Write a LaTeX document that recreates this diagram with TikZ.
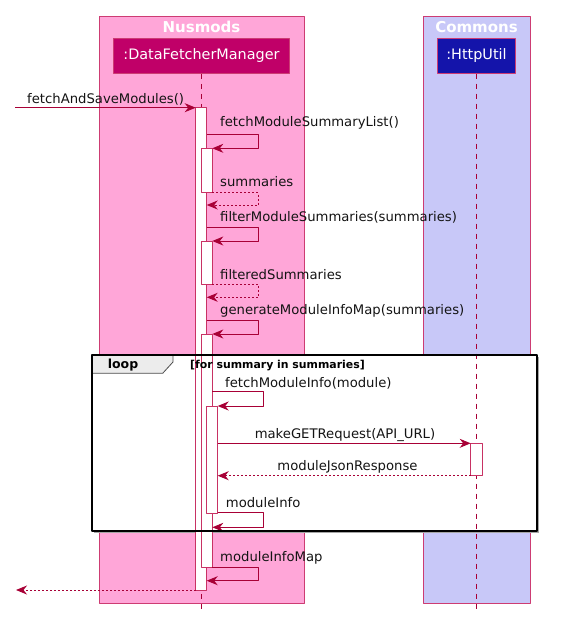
\documentclass[tikz,border=0pt]{standalone}
\usepackage{fontspec}
\setmainfont{DejaVu Sans}
\usepackage{xcolor}
\usetikzlibrary{arrows.meta,calc}
\definecolor{umlred}{RGB}{168,0,54}
\definecolor{grpline}{RGB}{205,60,115}
\definecolor{nuspink}{RGB}{255,166,216}
\definecolor{comblue}{RGB}{200,200,248}
\definecolor{dfmfill}{RGB}{192,0,104}
\definecolor{httpfill}{RGB}{20,20,170}
\definecolor{barline}{RGB}{200,50,100}
\definecolor{tabgray}{RGB}{236,236,236}

\begin{document}
\begin{tikzpicture}[x=1pt,y=-1pt,line join=round,
  msg/.style={draw=umlred,line width=1pt,-{Stealth[length=11pt,width=9pt,inset=3.5pt]}},
  ret/.style={msg,dash pattern=on 2pt off 2pt},
  life/.style={draw=umlred,line width=1pt,dash pattern=on 5pt off 5pt},
  bar/.style={draw=barline,fill=white,line width=1pt},
  grp/.style={draw=grpline,line width=1pt},
  grptitle/.style={text=white,font=\fontsize{15}{17}\selectfont\bfseries,inner sep=0pt},
  part/.style={draw=grpline,line width=1pt,text=white,inner sep=0pt,
    font=\fontsize{14.4}{16}\selectfont},
  lbl/.style={anchor=base west,inner sep=0pt,text=black!92,
    font=\fontsize{13.2}{15}\selectfont},
  clbl/.style={lbl,anchor=base}]
  \useasboundingbox (0,0) rectangle (586,622);

  % groups and participants
  \draw[grp,fill=nuspink] (99,16) rectangle (304,603);
  \draw[grp,fill=comblue] (423,16) rectangle (530,603);
  \node[grptitle] (nus) at (201.5,27) {Nusmods};
  \node[grptitle] (com) at (476.5,27) {Commons};
  \node[part,fill=dfmfill,minimum width=175.6,minimum height=35] (dfm) at (201.5,55.8) {:DataFetcherManager};
  \node[part,fill=httpfill,minimum width=77.6,minimum height=35] (http) at (476.5,55.7) {:HttpUtil};

  % loop frame background
  \fill[black!35] (94.3,357) rectangle (538.7,532.7);
  \fill[white] (92.3,355) rectangle (536.7,530.7);

  % lifelines
  \coordinate (dfmend) at (201.5,612);
  \coordinate (httpend) at (476.5,612);
  \draw[life] (dfm.south) -- (dfmend);
  \draw[life] (http.south) -- (httpend);

  % loop tab
  \draw[fill=tabgray,draw=black!70,line width=0.8pt] (92.3,355) -- (173,355) -- (173,362)
    -- (162.7,373.3) -- (92.3,373.3) -- cycle;
  \node[anchor=base,inner sep=0pt,font=\fontsize{12.5}{14}\selectfont\bfseries] (lp) at (123,368) {loop};

  % activation bars
  \draw[bar] (195.7,107.7) rectangle (206.7,590);
  \draw[bar] (201.3,148.3) rectangle (212.3,192.7);
  \draw[bar] (201.3,241) rectangle (212.3,284);
  \draw[bar] (201.3,334) rectangle (212.3,567.3);
  \draw[bar] (206.7,406) rectangle (217.7,513.3);
  \draw[bar] (470.7,443.3) rectangle (482.7,475.7);

  % guard
  \node[anchor=base west,inner sep=0pt,font=\fontsize{10.9}{13}\selectfont\bfseries] (grd) at (190,368) {[for summary in summaries]};

  % message end points
  \coordinate (in) at (15,107.7);
  \coordinate (b1in) at (195.7,107.7);
  \coordinate (m1) at (206.7,134.3);
  \coordinate (m1e) at (212.3,148.3);
  \coordinate (r1) at (212.3,192.7);
  \coordinate (r1e) at (206.7,205);
  \coordinate (m2) at (206.7,227.3);
  \coordinate (m2e) at (212.3,241);
  \coordinate (r2) at (212.3,284);
  \coordinate (r2e) at (206.7,297.3);
  \coordinate (m3) at (206.7,320);
  \coordinate (m3e) at (212.3,334);
  \coordinate (m4) at (212.3,391.7);
  \coordinate (m4e) at (217.7,406);
  \coordinate (m5) at (217.7,443.3);
  \coordinate (m5e) at (470.7,443.3);
  \coordinate (r5) at (470.7,475.7);
  \coordinate (r5e) at (217.7,475.7);
  \coordinate (r4) at (217.7,512.7);
  \coordinate (r4e) at (212.3,527.3);
  \coordinate (r3) at (212.3,567.3);
  \coordinate (r3e) at (206.7,580.7);
  \coordinate (out) at (195.7,590);
  \coordinate (outend) at (16,590);

  % messages
  \draw[msg] (in) -- (b1in);
  \draw[msg] (m1) -- ++(51.6,0) |- (m1e);
  \draw[ret] (r1) -- ++(46,0) |- (r1e);
  \draw[msg] (m2) -- ++(51.6,0) |- (m2e);
  \draw[ret] (r2) -- ++(46,0) |- (r2e);
  \draw[msg] (m3) -- ++(51.6,0) |- (m3e);
  \draw[msg] (m4) -- ++(51,0) |- (m4e);
  \draw[msg] (m5) -- (m5e);
  \draw[ret] (r5) -- (r5e);
  \draw[msg] (r4) -- ++(45.6,0) |- (r4e);
  \draw[msg] (r3) -- ++(46,0) |- (r3e);
  \draw[ret] (out) -- (outend);

  % labels
  \node[lbl] (l0) at (27,103) {fetchAndSaveModules()};
  \node[lbl] (l1) at (220,126.7) {fetchModuleSummaryList()};
  \node[lbl] (l2) at (220,186) {summaries};
  \node[lbl] (l3) at (220,221.5) {filterModuleSummaries(summaries)};
  \node[lbl] (l4) at (220,279) {filteredSummaries};
  \node[lbl] (l5) at (220,314) {generateModuleInfoMap(summaries)};
  \node[lbl] (l6) at (225,387.3) {fetchModuleInfo(module)};
  \node[clbl] (l7) at (345,438.3) {makeGETRequest(API\_URL)};
  \node[clbl] (l8) at (347.5,470.7) {moduleJsonResponse};
  \node[lbl] (l9) at (225.7,507.7) {moduleInfo};
  \node[lbl] (l10) at (220,561.7) {moduleInfoMap};

  % loop frame border
  \draw[black,line width=2pt] (92.3,355) rectangle (536.7,530.7);
\end{tikzpicture}
\end{document}
